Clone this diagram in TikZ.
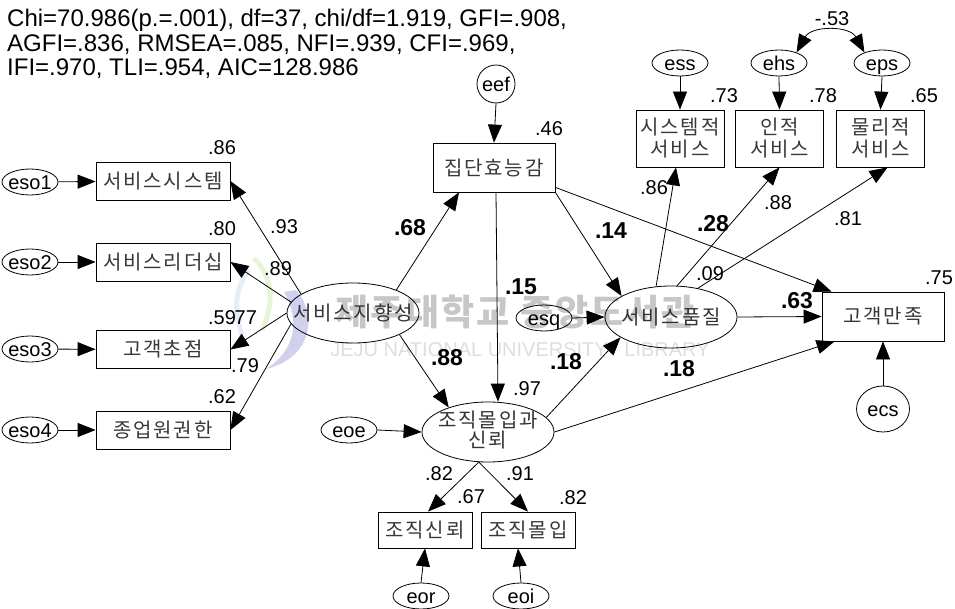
\documentclass[tikz,border=0pt]{standalone}
\usepackage{fontspec}
\setmainfont{Liberation Sans}
\newfontfamily\krf[LetterSpace=9]{Noto Sans CJK KR}
\newfontfamily\krw[LetterSpace=6]{Noto Sans CJK KR}
\usetikzlibrary{shapes.geometric,arrows.meta}
\newcommand\zt[1]{\makebox[0pt]{\smash{\raisebox{-.36em}{#1}}}}
\newcommand\ztt[2]{\makebox[0pt]{\smash{\raisebox{-.3em}{\begin{tabular}{@{}c@{}}#1\\[-3pt]#2\end{tabular}}}}}
\tikzset{
  obs/.style={draw,line width=.8pt,rectangle,inner sep=0pt,minimum width=#1,align=center,font=\krf\fontsize{20}{22}\selectfont,text=black!78},
  lat/.style={draw,line width=.8pt,ellipse,inner sep=0pt,minimum width=132pt,minimum height=60pt,font=\krf\fontsize{20}{22}\selectfont,text=black!80},
  err/.style={draw,line width=.8pt,ellipse,inner sep=0pt,minimum width=56pt,minimum height=26pt,font=\fontsize{20}{22}\selectfont},
  arr/.style={line width=.8pt,-{Triangle[length=18pt,width=14pt]}},
  arrb/.style={line width=.8pt,{Triangle[length=18pt,width=14pt]}-{Triangle[length=18pt,width=14pt]}},
  lab/.style={inner sep=0pt,font=\fontsize{20}{22}\selectfont},
  blab/.style={inner sep=0pt,font=\bfseries\fontsize{23}{25}\selectfont},
}
\begin{document}
\begin{tikzpicture}[x=1pt,y=-1pt]
\useasboundingbox (0,0) rectangle (955,609);
% watermark
\fill[blue!45!gray,opacity=.25] (296,290) .. controls (318,315) and (312,358) .. (266,369) .. controls (296,350) and (300,320) .. (284,292) -- cycle;
\draw[green!45!yellow!60!gray,opacity=.2,line width=5pt] (254,258) .. controls (276,280) and (272,310) .. (262,330);
\draw[cyan!50!blue!60,opacity=.18,line width=5pt] (249,270) .. controls (234,290) and (234,310) .. (242,335);
\node[inner sep=0pt,anchor=center,text=black!22,font=\krw\bfseries\fontsize{36}{38}\selectfont] (wm1) at (515,312) {제주대학교 중앙도서관};
\node[inner sep=0pt,text=black!13,font=\fontsize{20}{22}\selectfont] (wm2) at (520,350) {JEJU NATIONAL UNIVERSITY\ \ \ LIBRARY};
% stats
\node[inner sep=0pt,anchor=base west,font=\fontsize{24}{24}\selectfont] (st1) at (7,27) {Chi=70.986(p.=.001), df=37, chi/df=1.919, GFI=.908,};
\node[inner sep=0pt,anchor=base west,font=\fontsize{24}{24}\selectfont] (st2) at (7,52) {AGFI=.836, RMSEA=.085, NFI=.939, CFI=.969,};
\node[inner sep=0pt,anchor=base west,font=\fontsize{24}{24}\selectfont] (st3) at (7,76) {IFI=.970, TLI=.954, AIC=128.986};
% left boxes
\node[obs=134pt,minimum height=38pt] (b1) at (163,181) {서비스시스템};
\node[obs=134pt,minimum height=38pt] (b2) at (163,262) {서비스리더십};
\node[obs=134pt,minimum height=38pt] (b3) at (163,349.5) {고객초점};
\node[obs=134pt,minimum height=38pt] (b4) at (163,430) {종업원권한};
\node[err] (e1) at (30,182) {\zt{eso1}};
\node[err] (e2) at (30,262) {\zt{eso2}};
\node[err] (e3) at (30,349) {\zt{eso3}};
\node[err] (e4) at (30,430) {\zt{eso4}};
% latents
\node[lat] (sv) at (353,313) {\zt{서비스지향성}};
\node[lat,minimum height=62pt] (sq) at (671,317) {\zt{서비스품질}};
\node[lat] (oc) at (488,432) {\ztt{조직몰입과}{신뢰}};
\node[obs=122pt,minimum height=49pt] (ce) at (494,167.5) {집단효능감};
\node[obs=122pt,minimum height=49pt] (cs) at (883,316.5) {고객만족};
\node[err] (eq) at (544,318) {\zt{esq}};
\node[err] (eo) at (349,430) {\zt{eoe}};
\node[draw,line width=.8pt,circle,inner sep=0pt,minimum size=38pt,font=\fontsize{20}{22}\selectfont] (ef) at (496,84) {\zt{eef}};
\node[draw,line width=.8pt,ellipse,inner sep=0pt,minimum width=53pt,minimum height=46pt,font=\fontsize{20}{22}\selectfont] (ec) at (883,409) {\zt{ecs}};
% top right
\node[obs=88pt,minimum height=57pt] (t1) at (680,138.5) {시스템적\\서비스};
\node[obs=88pt,minimum height=57pt] (t2) at (779.5,138.5) {인적\\서비스};
\node[obs=88pt,minimum height=57pt] (t3) at (880.5,138.5) {물리적\\서비스};
\node[err] (es) at (680,63) {\zt{ess}};
\node[err] (eh) at (779,63) {\zt{ehs}};
\node[err] (ep) at (882,63) {\zt{eps}};
% bottom
\node[obs=94pt,minimum height=36pt] (o1) at (425,530) {조직신뢰};
\node[obs=94pt,minimum height=36pt] (o2) at (528,530) {조직몰입};
\node[err] (er) at (421,596) {\zt{eor}};
\node[err] (ei) at (521,596) {\zt{eoi}};
% connectors
\draw[arr] (e1) -- (b1);
\draw[arr] (e2) -- (b2);
\draw[arr] (e3) -- (b3);
\draw[arr] (e4) -- (b4);
\draw[arr] (sv.160) -- (b1.east);
\draw[arr] (sv.170) -- (b2.east);
\draw[arr] (sv.180) -- (b3.east);
\draw[arr] (sv.190) -- (b4.east);
\draw[arr] (sv.28) -- ([xshift=-35pt]ce.south);
\draw[arr] (sv.-25) -- (oc.148);
\draw[arr] ([xshift=2pt]ce.south) -- ([xshift=10pt]oc.north);
\draw[arr] (ce.south east) -- (sq.157);
\draw[arr] ([yshift=5pt]ce.south east) -- ([xshift=10pt]cs.north west);
\draw[arr] (eq.east) -- (sq.west);
\draw[arr] (oc.14) -- (sq.202);
\draw[arr] (oc.east) -- ([xshift=13pt]cs.south west);
\draw[arr] (sq.east) -- (cs.west);
\draw[arr] (sq.116) -- ([xshift=-4pt]t1.south);
\draw[arr] (sq.79) -- (t2.south);
\draw[arr] (sq.47) -- ([xshift=7pt]t3.south);
\draw[arr] (es.south) -- (t1.north);
\draw[arr] (eh.south) -- (t2.north);
\draw[arr] (ep.south) -- (t3.north);
\draw[arrb] (eh.31) .. controls +(15,-27) and +(-15,-27) .. (ep.149);
\draw[arr] (eo.east) -- (oc.west);
\draw[arr] (oc.253) -- ([xshift=3pt]o1.north);
\draw[arr] (oc.253) -- (o2.north);
\draw[arr] (er.north) -- (o1.south);
\draw[arr] (ei.north) -- ([xshift=-10pt]o2.south);
\draw[arr] (ec.north) -- (cs.south);
\draw[arr] (ef.south) -- (ce.north);
% labels
\node[lab] (l1) at (222,148) {.86};
\node[lab] (l2) at (222,229) {.80};
\node[lab] (l3) at (222,318) {.59};
\node[lab] (l4) at (222,397) {.62};
\node[lab] (l5) at (284,227) {.93};
\node[lab] (l6) at (278,269) {.89};
\node[lab] (l7) at (243,318) {.77};
\node[lab] (l8) at (245,366) {.79};
\node[blab] (l9) at (410,228) {.68};
\node[blab] (l10) at (611,231) {.14};
\node[lab] (l11) at (549,129) {.46};
\node[blab] (l12) at (521,287) {.15};
\node[blab] (l13) at (447,358) {.88};
\node[blab] (l14) at (566,362) {.18};
\node[blab] (l15) at (679,369) {.18};
\node[lab] (l16) at (527,389) {.97};
\node[lab] (l17) at (710,274) {.09};
\node[blab] (l18) at (797,301) {.63};
\node[lab] (l19) at (939,278) {.75};
\node[lab] (l20) at (654,188) {.86};
\node[blab] (l21) at (713,224) {.28};
\node[lab] (l22) at (778,203) {.88};
\node[lab] (l23) at (848,219) {.81};
\node[lab] (l24) at (724,96) {.73};
\node[lab] (l25) at (823,96) {.78};
\node[lab] (l26) at (924,96) {.65};
\node[lab] (l27) at (832,19) {-.53};
\node[lab] (l28) at (439,474) {.82};
\node[lab] (l29) at (520,474) {.91};
\node[lab] (l30) at (471,497) {.67};
\node[lab] (l31) at (573,498) {.82};
\end{tikzpicture}
\end{document}
